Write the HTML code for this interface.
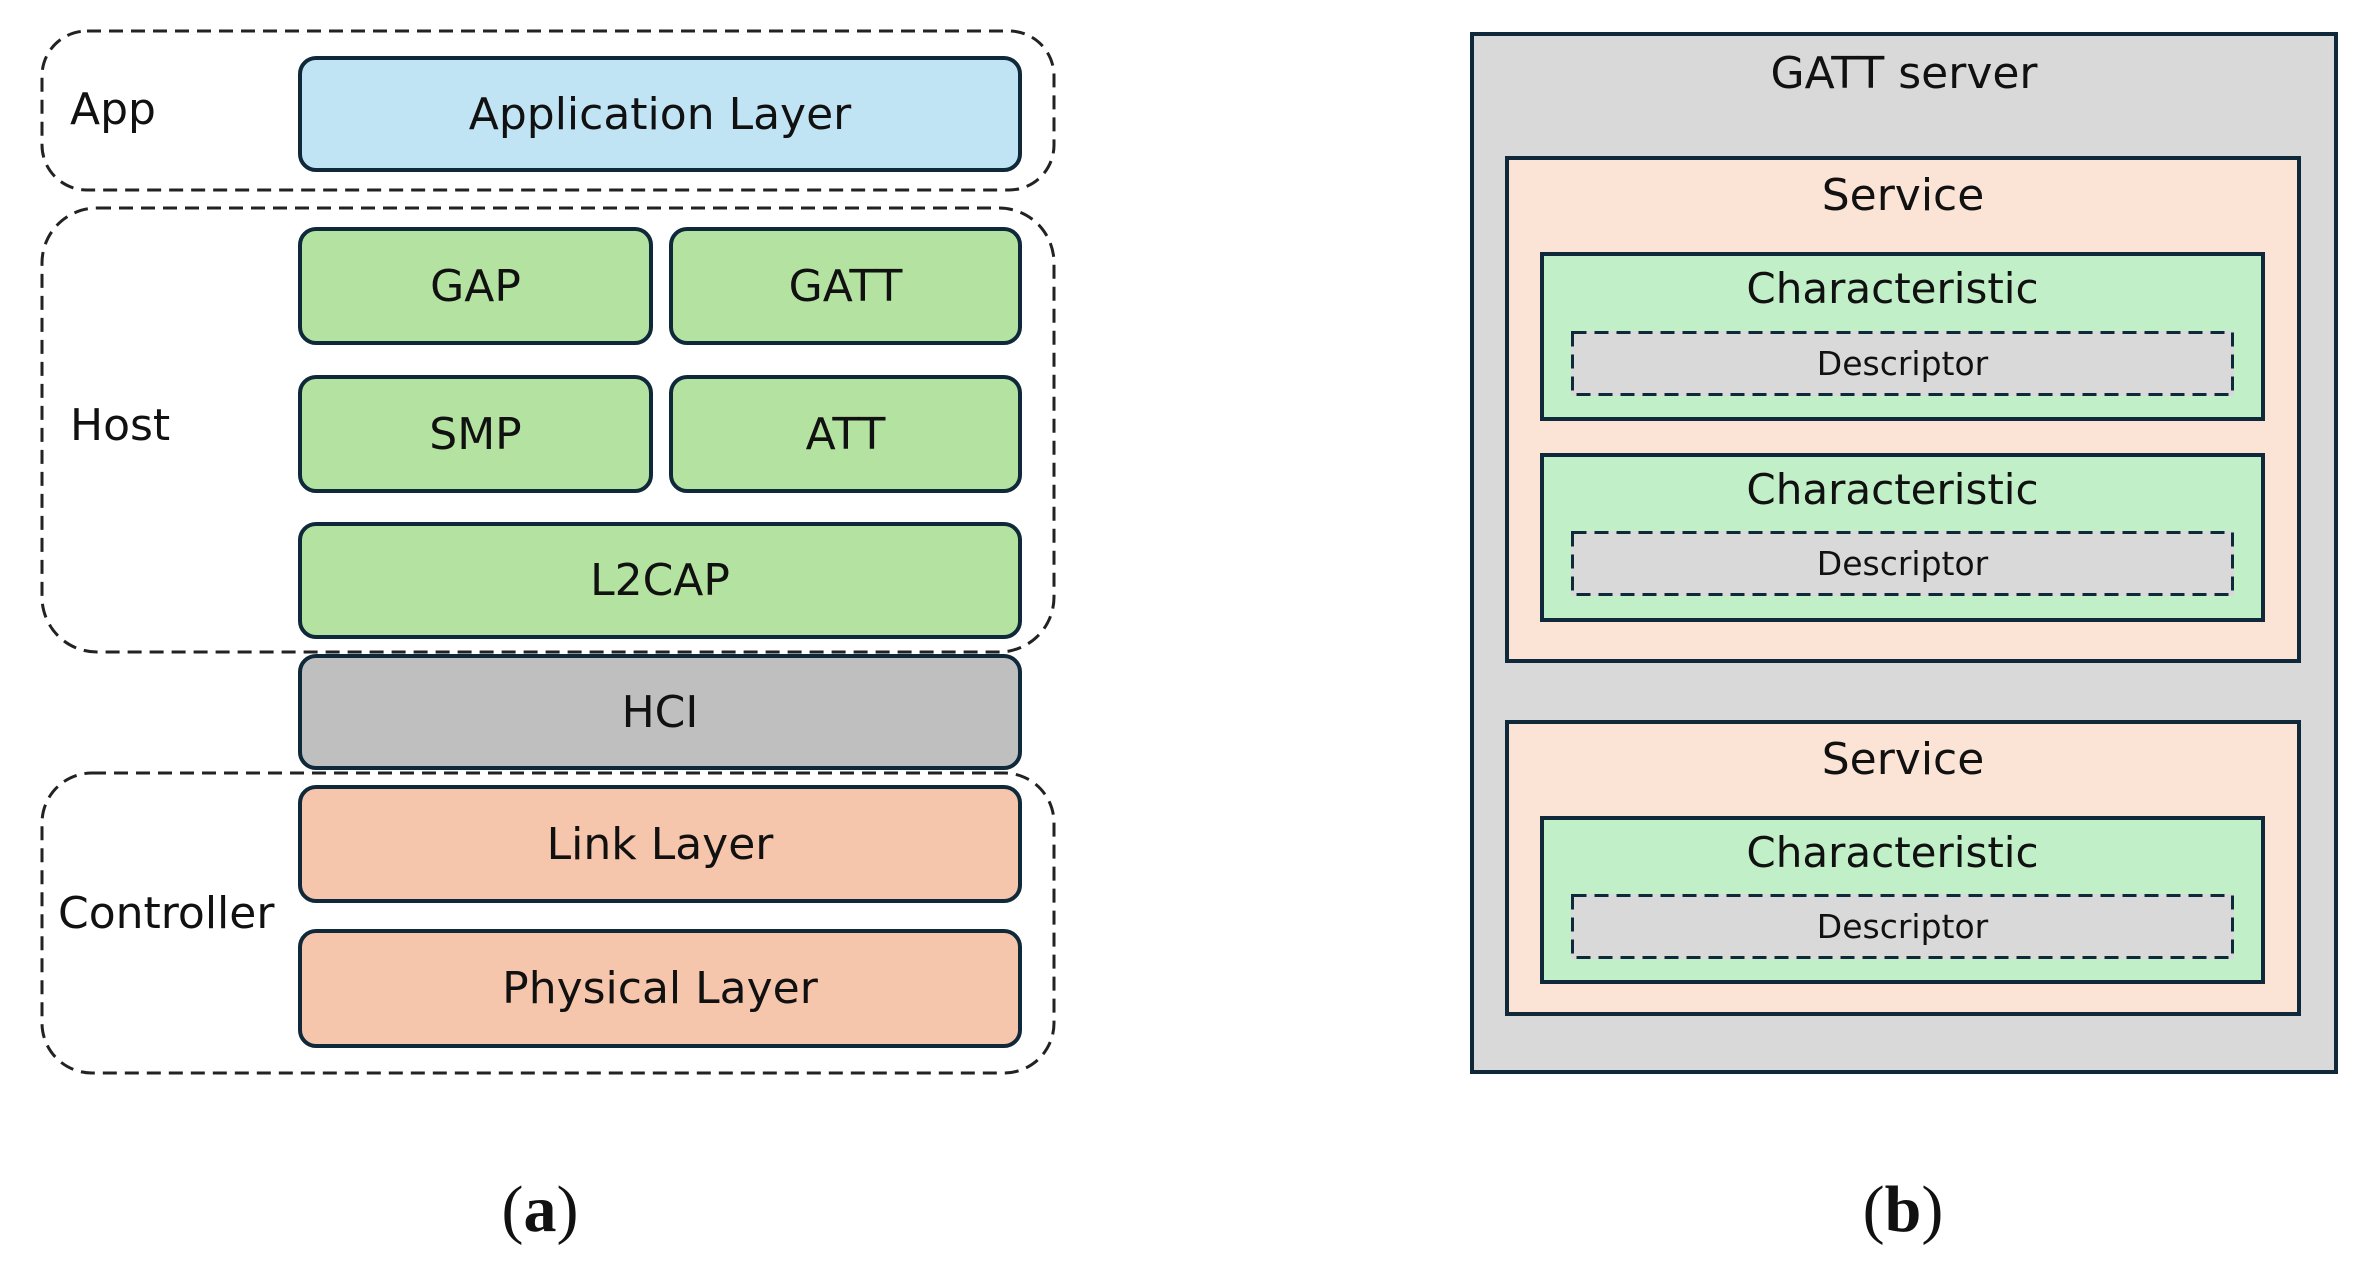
<!DOCTYPE html>
<html><head><style>
body{margin:0;width:2379px;height:1277px;background:#fff;position:relative;overflow:hidden;font-family:"DejaVu Sans","Liberation Sans",sans-serif;color:#111}
.b{position:absolute;box-sizing:border-box;display:flex;align-items:center;justify-content:center}
.l{border:4px solid #10293a;border-radius:18px;font-size:44px}
.t{position:absolute;font-size:44px;white-space:nowrap}
.r{position:absolute;box-sizing:border-box;border:4px solid #10293a}
.c{position:absolute;left:0;right:0;text-align:center;white-space:nowrap}
.cap{position:absolute;font-family:"Liberation Serif",serif;font-size:66px;transform:translateX(-50%)}
svg{position:absolute;left:0;top:0}
</style></head><body>
<div class="t" style="left:70px;top:84px">App</div>
<div class="t" style="left:70px;top:400px">Host</div>
<div class="t" style="left:58px;top:888px">Controller</div>
<div class="b l" style="left:298px;top:56px;width:724px;height:116px;background:#c1e4f5">Application Layer</div>
<div class="b l" style="left:298px;top:227px;width:355px;height:118px;background:#b4e3a1">GAP</div>
<div class="b l" style="left:669px;top:227px;width:353px;height:118px;background:#b4e3a1">GATT</div>
<div class="b l" style="left:298px;top:375px;width:355px;height:118px;background:#b4e3a1">SMP</div>
<div class="b l" style="left:669px;top:375px;width:353px;height:118px;background:#b4e3a1">ATT</div>
<div class="b l" style="left:298px;top:522px;width:724px;height:117px;background:#b4e3a1">L2CAP</div>
<div class="b l" style="left:298px;top:654px;width:724px;height:116px;background:#bfbfbf">HCI</div>
<div class="b l" style="left:298px;top:785px;width:724px;height:118px;background:#f5c6ab">Link Layer</div>
<div class="b l" style="left:298px;top:929px;width:724px;height:119px;background:#f5c6ab">Physical Layer</div>
<div class="cap" style="left:540px;top:1172px">(<b>a</b>)</div>

<div class="r" style="left:1470px;top:32px;width:868px;height:1042px;background:#d9d9d9"><div class="c" style="top:12px;font-size:44px">GATT server</div></div>
<div class="r" style="left:1505px;top:156px;width:796px;height:507px;background:#fbe3d6"><div class="c" style="top:10px;font-size:44px">Service</div></div>
<div class="r" style="left:1505px;top:720px;width:796px;height:296px;background:#fbe3d6"><div class="c" style="top:10px;font-size:44px">Service</div></div>
<div class="r" style="left:1540px;top:252px;width:725px;height:169px;background:#c1f0c8"><div class="c" style="top:8px;font-size:42px;padding-right:20px">Characteristic</div></div>
<div class="r" style="left:1540px;top:453px;width:725px;height:169px;background:#c1f0c8"><div class="c" style="top:8px;font-size:42px;padding-right:20px">Characteristic</div></div>
<div class="r" style="left:1540px;top:816px;width:725px;height:168px;background:#c1f0c8"><div class="c" style="top:8px;font-size:42px;padding-right:20px">Characteristic</div></div>
<div class="b" style="left:1571px;top:331px;width:663px;height:65px;background:#d9d9d9;font-size:33px">Descriptor</div>
<div class="b" style="left:1571px;top:531px;width:663px;height:65px;background:#d9d9d9;font-size:33px">Descriptor</div>
<div class="b" style="left:1571px;top:894px;width:663px;height:65px;background:#d9d9d9;font-size:33px">Descriptor</div>
<div class="cap" style="left:1903px;top:1172px">(<b>b</b>)</div>
<svg width="2379" height="1277" fill="none">
<g stroke="#222" stroke-width="3" stroke-dasharray="14 8">
<rect x="42" y="31" width="1012" height="159" rx="45"/>
<rect x="42" y="208" width="1012" height="444" rx="55"/>
<rect x="42" y="773" width="1012" height="300" rx="50"/>
</g>
<g stroke="#10293a" stroke-width="3" stroke-dasharray="14 8">
<rect x="1572.5" y="332.5" width="660" height="62"/>
<rect x="1572.5" y="532.5" width="660" height="62"/>
<rect x="1572.5" y="895.5" width="660" height="62"/>
</g>
</svg>
</body></html>
